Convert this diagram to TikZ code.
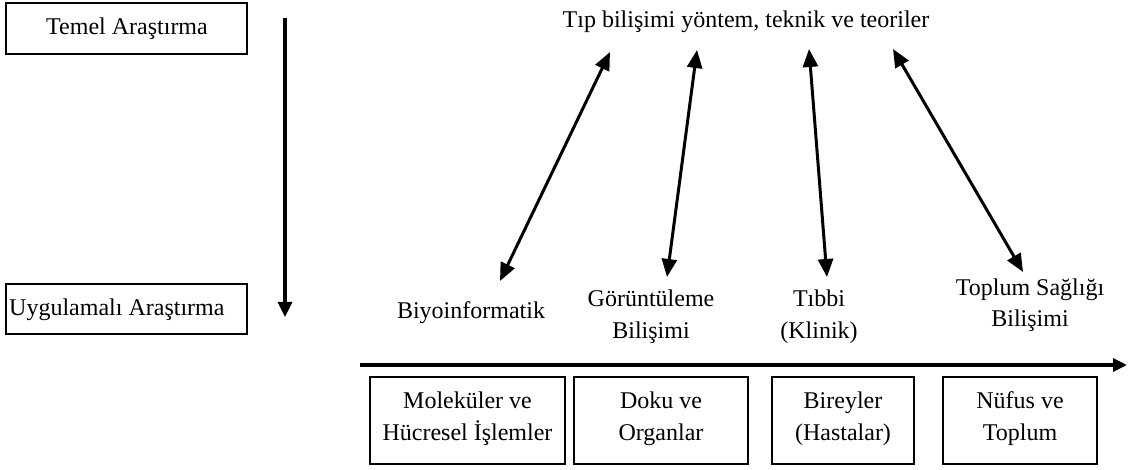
\documentclass[tikz,border=0pt]{standalone}
\usepackage{fontspec}
\setmainfont{Liberation Serif}
\usetikzlibrary{arrows.meta}
\begin{document}
\begin{tikzpicture}[x=1pt,y=-1pt,
  txt/.style={font=\fontsize{24}{32}\selectfont, inner sep=0pt, align=center, anchor=base},
  box/.style={draw, line width=1.8pt, inner sep=0pt},
  dbl/.style={line width=3pt, {Triangle[length=18pt,width=15pt]}-{Triangle[length=18pt,width=15pt]}},
  onehead/.style={line width=3.2pt, -{Triangle[length=15pt,width=14pt]}}]
\useasboundingbox (0,0) rectangle (1128,470);

% left boxes
\node[box, minimum width=241pt, minimum height=51pt] (temelbox) at (126.5,28.5) {};
\node[txt] (temel) at (127,35) {Temel Araştırma};
\node[box, minimum width=241pt, minimum height=50pt] (uygbox) at (126.5,309) {};
\node[txt, anchor=base west] (uyg) at (9,316) {Uygulamalı Araştırma};

% vertical arrow
\coordinate (vtop) at (285,18);
\coordinate (vbot) at (285,317);
\draw[onehead] (vtop) -- (vbot);

% title
\node[txt] (title) at (746,28) {Tıp bilişimi yöntem, teknik ve teoriler};

% category labels (base = baseline of last line)
\node[txt] (bio) at (471,319) {Biyoinformatik};
\node[txt] (gor) at (651,339) {Görüntüleme\\Bilişimi};
\node[txt] (tib) at (819,339) {Tıbbi\\(Klinik)};
\node[txt] (top) at (1030,327) {Toplum Sağlığı\\Bilişimi};

% double arrows
\coordinate (a1t) at (610,52);  \coordinate (a1b) at (500,281);
\coordinate (a2t) at (697,50);  \coordinate (a2b) at (667,277);
\coordinate (a3t) at (809,49);  \coordinate (a3b) at (827,277);
\coordinate (a4t) at (893,49);  \coordinate (a4b) at (1023,272);
\draw[dbl] (a1t) -- (a1b);
\draw[dbl] (a2t) -- (a2b);
\draw[dbl] (a3t) -- (a3b);
\draw[dbl] (a4t) -- (a4b);

% horizontal arrow
\coordinate (hl) at (360,365);
\coordinate (hr) at (1127,365);
\draw[line width=3.3pt, -{Triangle[length=14pt,width=13pt]}] (hl) -- (hr);

% bottom boxes
\node[box, minimum width=195pt, minimum height=87pt] (b1) at (467.5,420.5) {};
\node[box, minimum width=174pt, minimum height=87pt] (b2) at (661,420.5) {};
\node[box, minimum width=142pt, minimum height=87pt] (b3) at (843,420.5) {};
\node[box, minimum width=154pt, minimum height=87pt] (b4) at (1020,420.5) {};
\node[txt] (t1) at (467.5,440) {Moleküler ve\\Hücresel İşlemler};
\node[txt] (t2) at (661,440) {Doku ve\\Organlar};
\node[txt] (t3) at (843,440) {Bireyler\\(Hastalar)};
\node[txt] (t4) at (1020,440) {Nüfus ve\\Toplum};
\end{tikzpicture}
\end{document}
